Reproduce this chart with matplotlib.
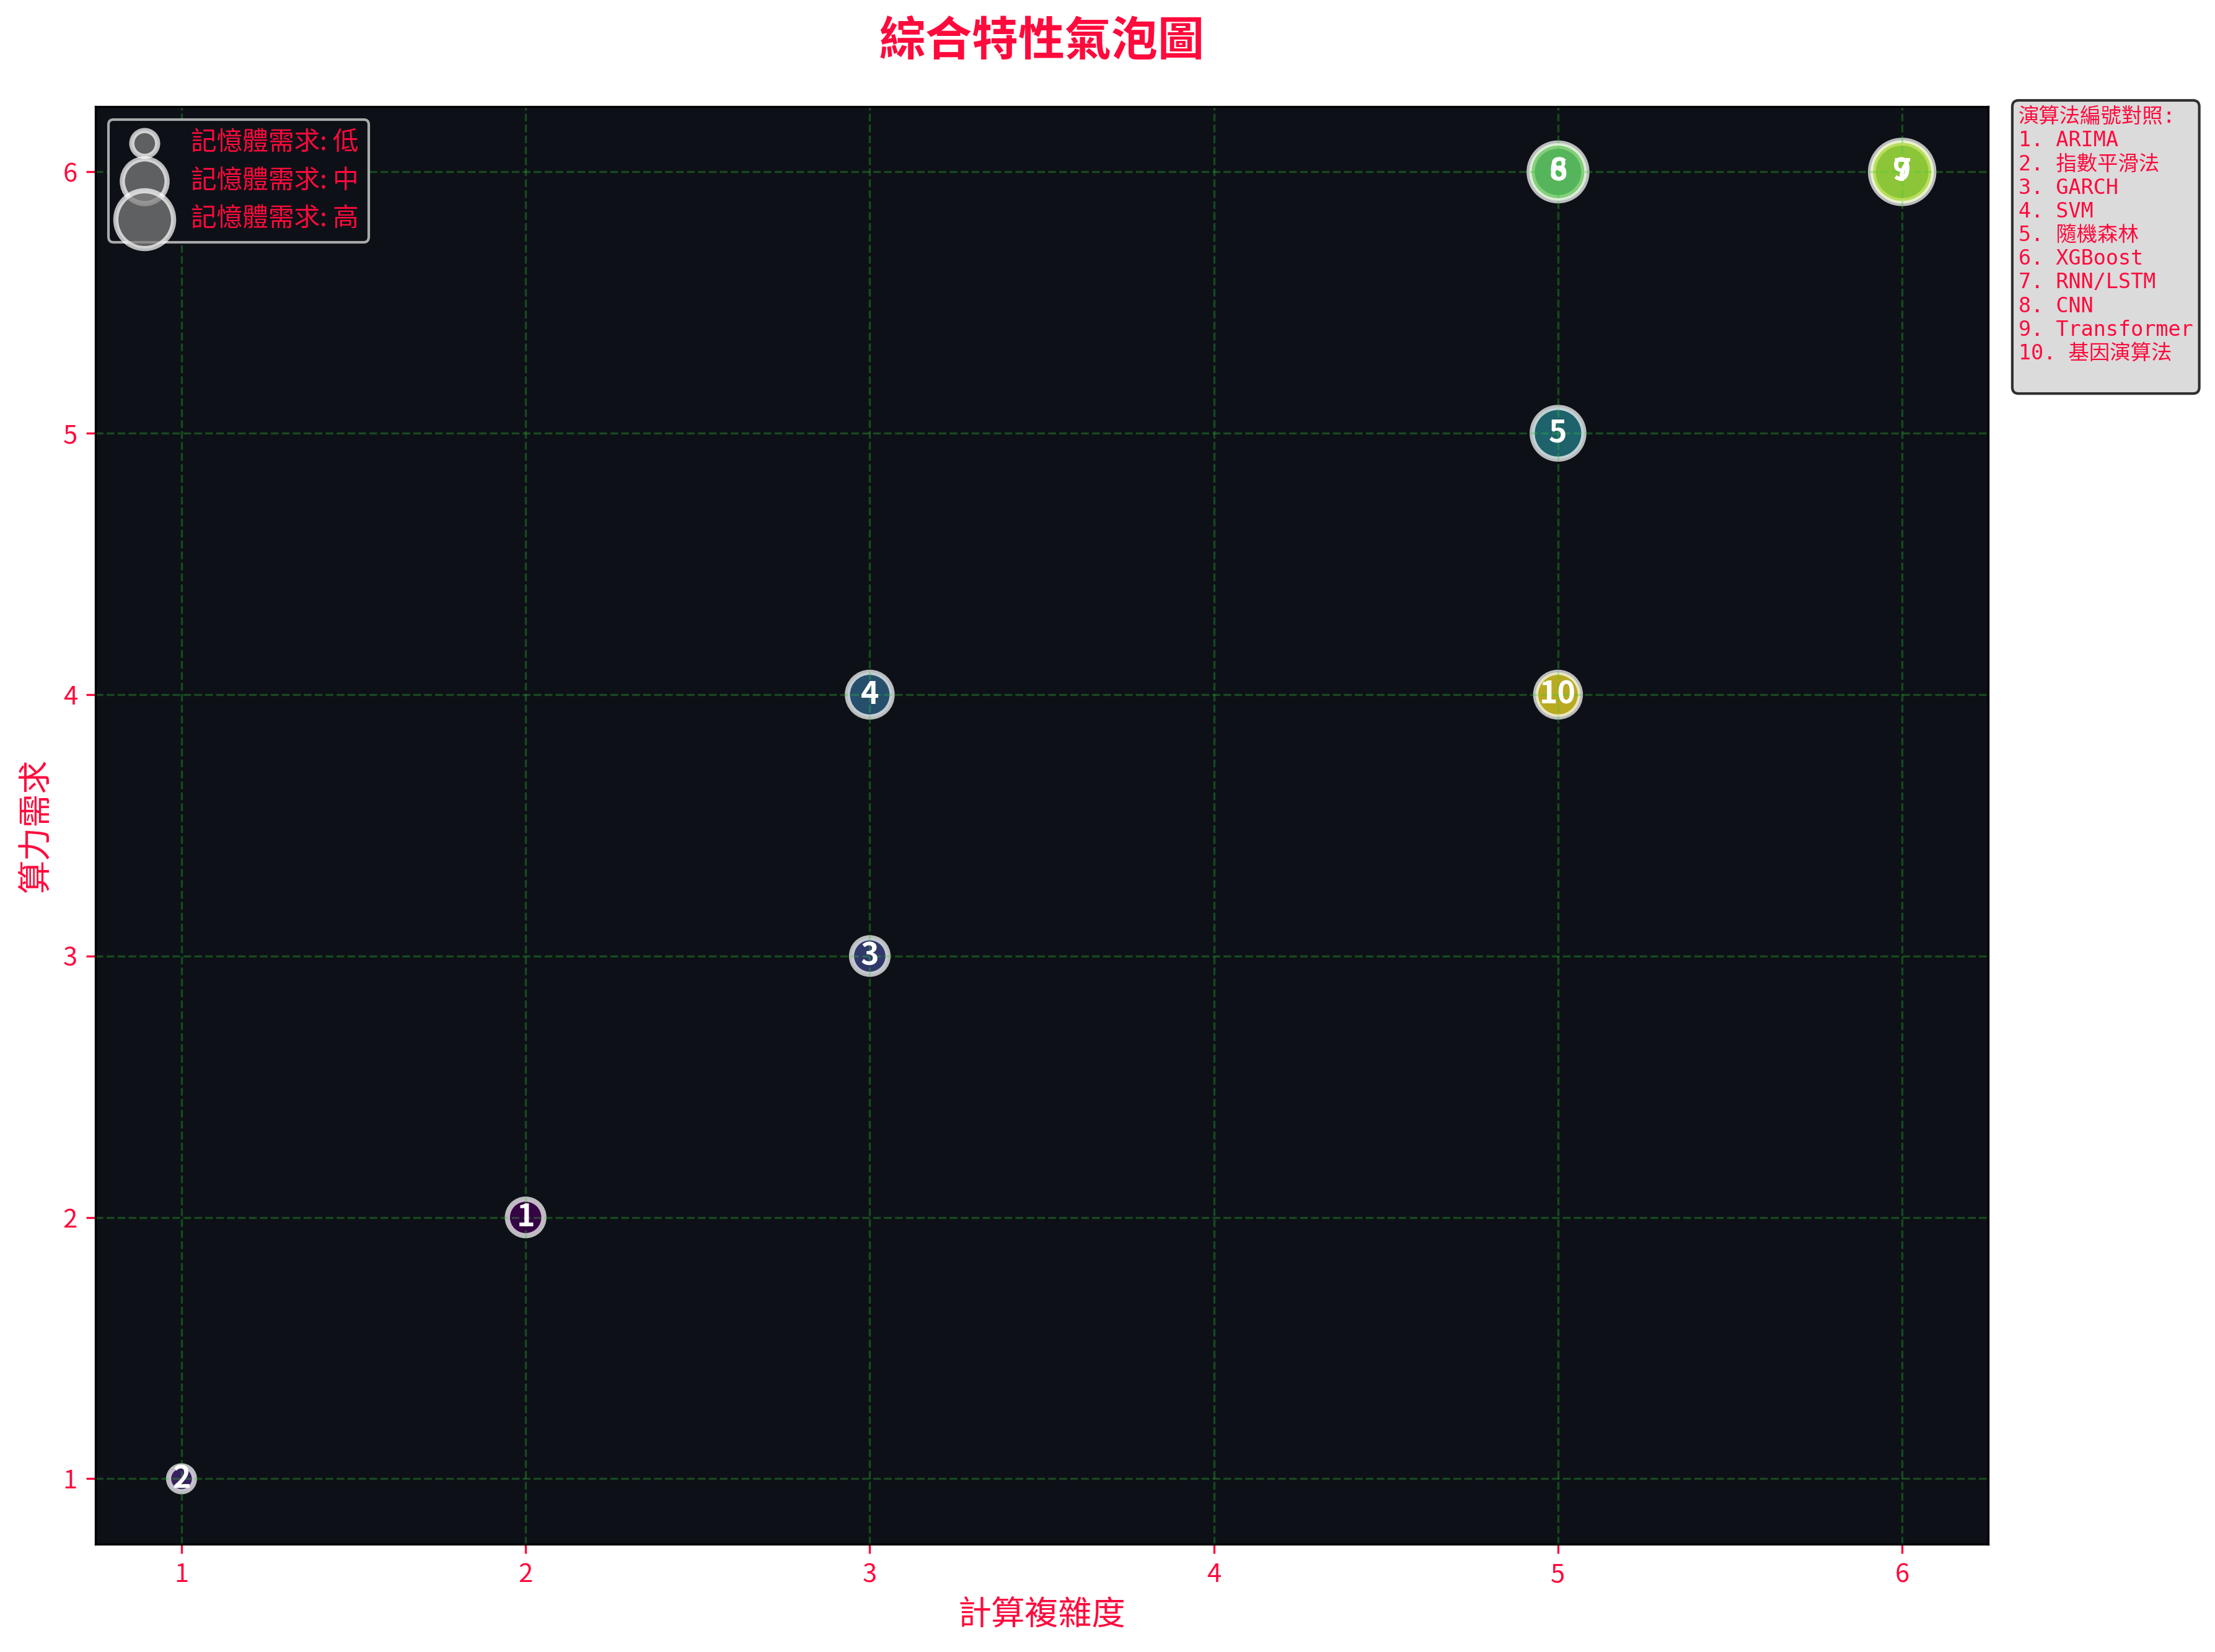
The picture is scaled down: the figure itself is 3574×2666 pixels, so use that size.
import matplotlib
matplotlib.use("Agg")
import matplotlib.pyplot as plt
import numpy as np

plt.rcParams['font.family'] = ['Noto Sans CJK TC', 'DejaVu Sans']
plt.rcParams['axes.unicode_minus'] = False

RED = '#ff0a3c'

algo_names = ['ARIMA', '指數平滑法', 'GARCH', 'SVM', '隨機森林',
              'XGBoost', 'RNN/LSTM', 'CNN', 'Transformer', '基因演算法']
complexity = [2, 1, 3, 3, 5, 5, 6, 5, 6, 5]
compute = [2, 1, 3, 4, 5, 6, 6, 6, 6, 4]
memory = [2, 1, 2, 3, 4, 4, 5, 5, 6, 3]

legend_levels = [1, 3, 5]
legend_labels = ['記憶體需求: 低', '記憶體需求: 中', '記憶體需求: 高']

fig = plt.figure(figsize=(3574 / 300, 2666 / 300), dpi=300)
ax = fig.add_axes([0.0431, 0.0653, 0.8545, 0.8702])
ax.set_facecolor('#0d1117')

n = len(algo_names)
colors = plt.cm.viridis(np.linspace(0, 1, n))
sizes = np.array(memory) * 100

ax.scatter(complexity, compute, s=sizes, c=colors, alpha=0.72,
           edgecolors='white', linewidths=2)

for i in range(n):
    ax.text(complexity[i], compute[i], str(i + 1), ha='center', va='center',
            fontsize=12, fontweight='bold', color='white')

# size legend
handles = []
for lvl, lab in zip(legend_levels, legend_labels):
    h = ax.scatter([], [], s=lvl * 100, c='gray', alpha=0.72,
                   edgecolors='white', linewidths=2, label=lab)
    handles.append(h)
leg = ax.legend(handles=handles, loc='upper left', fontsize=10,
                facecolor='#0d1117', edgecolor='#aaaaaa', framealpha=1)
for t in leg.get_texts():
    t.set_color(RED)

ax.grid(True, linestyle='--', color='#33cc33', alpha=0.3, linewidth=0.8)

ax.set_title('綜合特性氣泡圖', fontsize=18, fontweight='bold', color=RED, pad=20)
ax.set_xlabel('計算複雜度', fontsize=13, color=RED)
ax.set_ylabel('算力需求', fontsize=13, color=RED)
ax.tick_params(colors=RED, labelsize=10)

lines = ['演算法編號對照:']
for i, name in enumerate(algo_names):
    lines.append(f'{i + 1}. {name}')
ref_text = '\n'.join(lines) + '\n'
ax.text(1.016, 1.0, ref_text, transform=ax.transAxes, va='top', ha='left',
        fontsize=8, color=RED, family=['DejaVu Sans Mono', 'Noto Sans CJK TC'],
        bbox=dict(boxstyle='round', facecolor='lightgray', alpha=0.8))

fig.savefig('out.png', dpi=300)
